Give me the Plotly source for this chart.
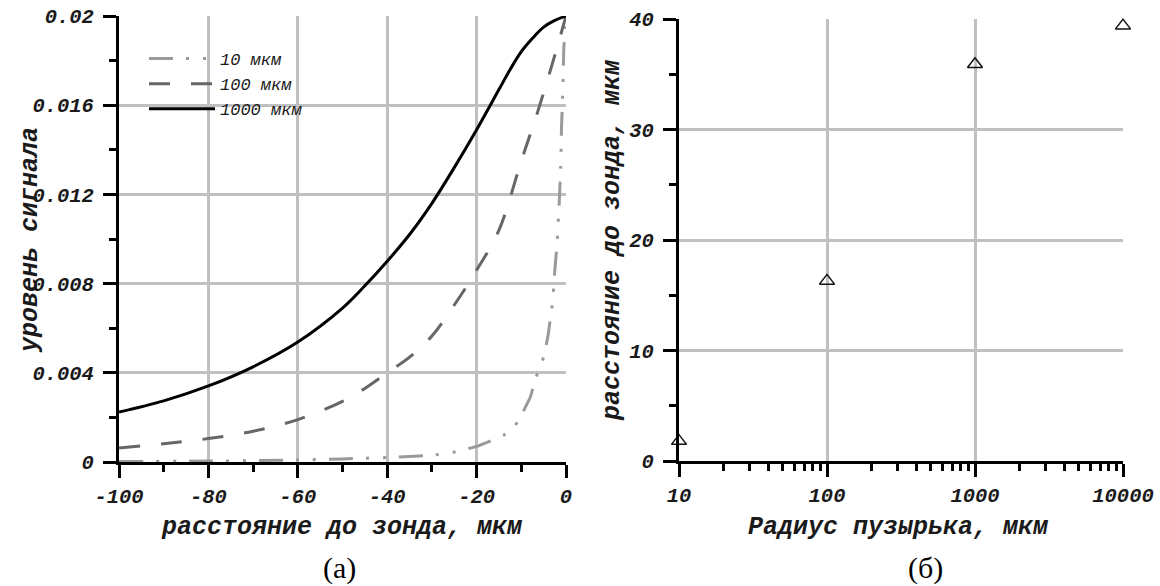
import plotly.graph_objects as go

# ---------------- data ----------------
x_10 = [-100, -80, -60, -50, -40, -30, -25, -20, -17, -14, -12, -10, -8, -7, -6, -5, -4, -3, -2.5, -2, -1.5, -1.2, -1, -0.7, -0.5, 0]
y_10 = [0.00002, 0.00004, 0.00009, 0.00014, 0.0002, 0.0003, 0.00045, 0.0007, 0.00094, 0.0012, 0.00145, 0.0021,
        0.0029, 0.0036, 0.0042, 0.0047, 0.0057, 0.0072, 0.0086, 0.0098, 0.0117, 0.0132, 0.015, 0.0168, 0.0185, 0.02]

x_100 = [-100, -90, -80, -70, -60, -50, -45, -40, -35, -30, -25, -20, -15, -10, -6.5, -3, 0]
y_100 = [0.00063, 0.00082, 0.00105, 0.00138, 0.0019, 0.00272, 0.0033, 0.0040, 0.0047, 0.00565, 0.00704, 0.0086,
         0.0104, 0.0135, 0.0156, 0.0179, 0.02]

x_1000 = [-100, -90, -80, -70, -60, -50, -45, -40, -35, -30, -25, -20, -15, -12.5, -10, -7.5, -5, -2.5, 0]
y_1000 = [0.00224, 0.00274, 0.00341, 0.00427, 0.00538, 0.0069, 0.0079, 0.0090, 0.0102, 0.0116, 0.0132, 0.0149,
          0.0167, 0.0176, 0.0184, 0.0190, 0.0195, 0.0198, 0.02]

series_names = ["10 мкм", "100 мкм", "1000 мкм"]

radius = [10, 100, 1000, 10000]
distance = [1.8, 16.3, 35.9, 39.4]

# tick labels
xa_vals = [-100, -80, -60, -40, -20, 0]
xa_text = ["-100", "-80", "-60", "-40", "-20", "0"]
ya_vals = [0, 0.004, 0.008, 0.012, 0.016, 0.02]
ya_text = ["0", "0.004", "0.008", "0.012", "0.016", "0.02"]
xb_vals = [10, 100, 1000, 10000]
xb_text = ["10", "100", "1000", "10000"]
yb_vals = [0, 10, 20, 30, 40]
yb_text = ["0", "10", "20", "30", "40"]

title_xa = "расстояние до зонда, мкм"
title_ya = "уровень сигнала"
title_xb = "Радиус пузырька, мкм"
title_yb = "расстояние до зонда, мкм"
panel_a = "(а)"
panel_b = "(б)"

# ---------------- styling ----------------
MONO = "Liberation Mono, Courier New, monospace"
SERIF = "Liberation Serif, Times New Roman, serif"
GRID = "#c0c0c0"
tickfont = dict(family=MONO, size=20.5, color="#1a1a1a", style="italic", weight="bold")
titlefont = dict(family=MONO, size=25, color="#1a1a1a", style="italic", weight="bold")

W, H = 1160, 586
OX, OY = 0, 0   # body margin removed by post_script below


def px(x):
    return (x - OX) / W


def py(y):
    return 1 - (y - OY) / H


fig = go.Figure()

fig.add_trace(go.Scatter(x=x_10, y=y_10, name=series_names[0], mode="lines",
                         line=dict(color="#9a9a9a", width=3, dash="24px,13px,3px,14px,3px,13px", shape="spline", smoothing=0.4),
                         xaxis="x", yaxis="y"))
fig.add_trace(go.Scatter(x=x_100, y=y_100, name=series_names[1], mode="lines",
                         line=dict(color="#666666", width=3, dash="21px,21px", shape="spline", smoothing=1),
                         xaxis="x", yaxis="y"))
fig.add_trace(go.Scatter(x=x_1000, y=y_1000, name=series_names[2], mode="lines",
                         line=dict(color="#000000", width=3, shape="spline", smoothing=1),
                         xaxis="x", yaxis="y"))
fig.add_trace(go.Scatter(x=radius, y=distance, mode="markers", showlegend=False, cliponaxis=False,
                         marker=dict(symbol="triangle-up-open", size=13, color="#111111", line=dict(width=1.5)),
                         xaxis="x2", yaxis="y2"))

common_axis = dict(
    showline=True, linecolor="black", linewidth=3, automargin=False,
    showgrid=True, gridcolor=GRID, gridwidth=2.5,
    zeroline=False, ticks="outside", tickcolor="black", tickwidth=2.5, ticklen=13,
    tickfont=tickfont, ticklabeloverflow="allow",
)
minor_lin = lambda d: dict(dtick=d, ticks="outside", ticklen=7, tickwidth=2.5, tickcolor="black", showgrid=False)
log_minor_vals = [m * 10 ** e for e in (1, 2, 3) for m in range(2, 10)]

fig.update_layout(
    width=W, height=H,
    margin=dict(l=0, r=0, t=0, b=0, autoexpand=False),
    paper_bgcolor="white", plot_bgcolor="white",
    xaxis=dict(domain=[px(119), px(566)], range=[-100, 0], anchor="y", ticklabelstandoff=0,
               tickvals=xa_vals, ticktext=xa_text, minor=minor_lin(10), **common_axis),
    yaxis=dict(domain=[py(462), py(16)], range=[0, 0.02], anchor="x", ticklabelstandoff=5,
               tickvals=ya_vals, ticktext=ya_text, minor=minor_lin(0.002), **common_axis),
    xaxis2=dict(domain=[px(679), px(1123)], type="log", range=[1, 4], anchor="y2", ticklabelstandoff=0,
                tickvals=xb_vals, ticktext=xb_text,
                minor=dict(tickvals=log_minor_vals, ticks="outside", ticklen=7, tickwidth=2.5,
                           tickcolor="black", showgrid=False),
                **common_axis),
    yaxis2=dict(domain=[py(461), py(19)], range=[0, 40], anchor="x2", ticklabelstandoff=5,
                tickvals=yb_vals, ticktext=yb_text, minor=minor_lin(5), **common_axis),
    legend=dict(x=px(144), y=py(41), xanchor="left", yanchor="top",
                bgcolor="rgba(0,0,0,0)", borderwidth=0, itemwidth=66, tracegroupgap=0,
                font=dict(family=MONO, size=17, color="#1a1a1a", style="italic")),
    showlegend=True,
)

ann = [
    dict(text=title_xa, x=px(342), y=py(527), font=titlefont),
    dict(text=title_ya, x=px(30), y=py(240), font=titlefont, textangle=-90),
    dict(text=title_xb, x=px(898), y=py(527), font=titlefont),
    dict(text=title_yb, x=px(612), y=py(240), font=titlefont, textangle=-90),
    dict(text=panel_a, x=px(340), y=py(568), font=dict(family=SERIF, size=30, color="black")),
    dict(text=panel_b, x=px(925), y=py(568), font=dict(family=SERIF, size=30, color="black")),
]
for a in ann:
    fig.add_annotation(xref="paper", yref="paper", xanchor="center", yanchor="middle", showarrow=False, **a)

fig.write_html("out.html", config={"displayModeBar": False},
               post_script="document.body.style.margin='0';document.body.style.overflow='hidden';")
